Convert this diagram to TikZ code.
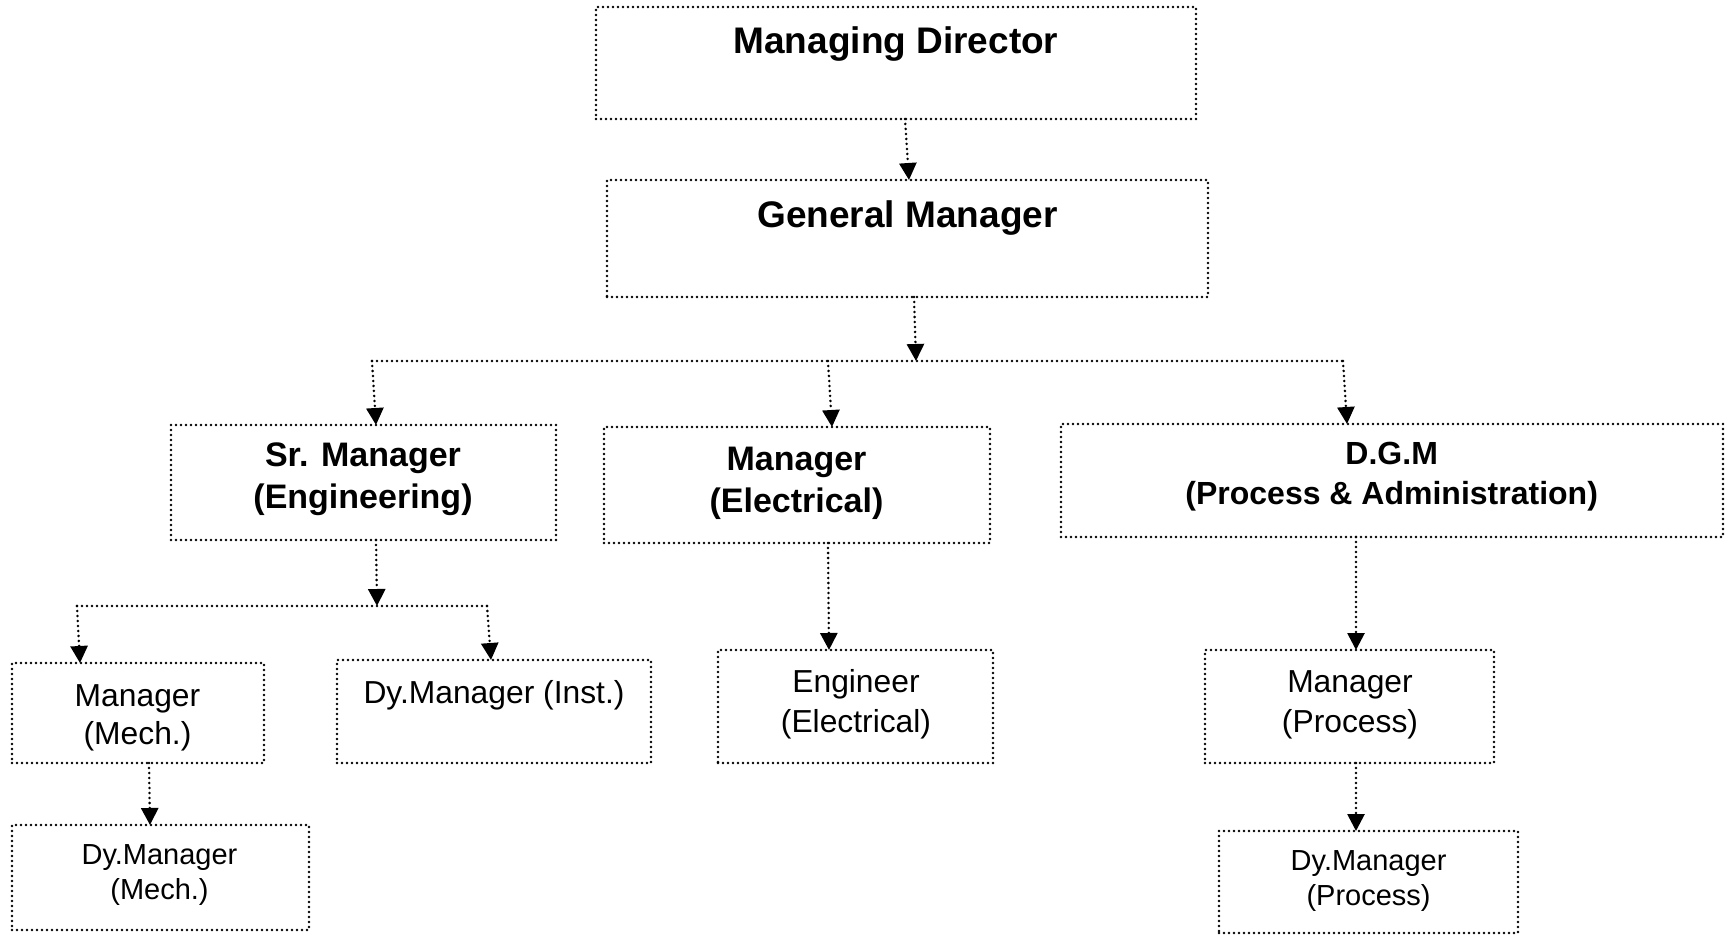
\documentclass[tikz,border=0pt]{standalone}
\usepackage{fontspec}
\setmainfont{Liberation Sans}
\usetikzlibrary{arrows.meta,calc}
\tikzset{
  box/.style={draw, line width=1.4pt, line cap=round, dash pattern=on 0pt off 2.5pt, inner sep=0pt, outer sep=0pt, rectangle},
  conn/.style={line width=1.4pt, line cap=round, dash pattern=on 0pt off 2.5pt},
  arr/.style={conn, -{Triangle[length=8.5pt,width=8.5pt]}},
  bigb/.style={font=\fontsize{18.5}{22}\selectfont\bfseries, align=center, inner sep=0pt},
  midb/.style={font=\fontsize{17}{21}\selectfont\bfseries, align=center, inner sep=0pt},
  dgmb/.style={font=\fontsize{16}{20}\selectfont\bfseries, align=center, inner sep=0pt},
  reg/.style={font=\fontsize{15.9}{20}\selectfont, align=center, inner sep=0pt},
  regs/.style={font=\fontsize{15.9}{19}\selectfont, align=center, inner sep=0pt},
  small/.style={font=\fontsize{14.5}{17.5}\selectfont, align=center, inner sep=0pt},
}
\begin{document}
\begin{tikzpicture}[x=0.5pt,y=-0.5pt]
\useasboundingbox (0,0) rectangle (1725,935);
% boxes
\node[box, minimum width=300pt, minimum height=56pt] (md) at (896,63) {};
\node[bigb] (mdt) at (896,44.5) {Managing Director};
\node[box, minimum width=300.5pt, minimum height=58.5pt] (gm) at (907.5,238.5) {};
\node[bigb] (gmt) at (907.5,218.5) {General Manager};
\node[box, minimum width=192.5pt, minimum height=57.5pt] (sm) at (363.5,482.5) {};
\node[midb] (smt) at (363,479.5) {Sr. Manager\\(Engineering)};
\node[box, minimum width=193pt, minimum height=58pt] (me) at (797,485) {};
\node[midb] (met) at (796.5,483.5) {Manager\\(Electrical)};
\node[box, minimum width=331pt, minimum height=56.5pt] (dgm) at (1392,480.5) {};
\node[dgmb] (dgmt) at (1391.7,476.5) {D.G.M\\(Process \& Administration)};
\node[box, minimum width=126pt, minimum height=50pt] (mm) at (138,713) {};
\node[regs] (mmt) at (137.5,717.5) {Manager\\(Mech.)};
\node[box, minimum width=157pt, minimum height=51.5pt] (di) at (494,711.5) {};
\node[reg] (dit) at (494,695.5) {Dy.Manager (Inst.)};
\node[box, minimum width=148.5pt, minimum height=52.5pt] (dm) at (160.5,877.5) {};
\node[small] (dmt) at (159.5,875.5) {Dy.Manager\\(Mech.)};
\node[box, minimum width=137.5pt, minimum height=56.5pt] (ee) at (855.5,706.5) {};
\node[reg] (eet) at (856,704.5) {Engineer\\(Electrical)};
\node[box, minimum width=144.5pt, minimum height=56.5pt] (mp) at (1349.5,706.5) {};
\node[reg] (mpt) at (1350,704.5) {Manager\\(Process)};
\node[box, minimum width=149.5pt, minimum height=51pt] (dp) at (1368.5,882) {};
\node[small] (dpt) at (1368.6,881.5) {Dy.Manager\\(Process)};
% bus coordinates
\coordinate (b1) at (916,361);
\coordinate (b1l) at (372,361);
\coordinate (b1m) at (828,361);
\coordinate (b1r) at (1343,361);
\coordinate (b2) at (377,606);
\coordinate (b2l) at (77,606);
\coordinate (b2r) at (487,606);
% connectors
\draw[arr] ($(md.south)+(9,0)$) -- ($(gm.north)+(1.5,0)$);
\draw[arr] ($(gm.south)+(6.5,0)$) -- (b1);
\draw[conn] (b1l) -- (b1r);
\draw[arr] (b1l) -- ($(sm.north)+(12.5,0)$);
\draw[arr] (b1m) -- ($(me.north)+(35,0)$);
\draw[arr] (b1r) -- ($(dgm.north)+(-45,0)$);
\draw[arr] ($(sm.south)+(12.5,0)$) -- (b2);
\draw[conn] (b2l) -- (b2r);
\draw[arr] (b2l) -- ($(mm.north)+(-58,0)$);
\draw[arr] (b2r) -- ($(di.north)+(-3,0)$);
\draw[arr] ($(mm.south)+(11,0)$) -- ($(dm.north)+(-10.5,0)$);
\draw[arr] ($(me.south)+(31,0)$) -- ($(ee.north)+(-26.5,0)$);
\draw[arr] ($(dgm.south)+(-36,0)$) -- ($(mp.north)+(6.5,0)$);
\draw[arr] ($(mp.south)+(6.5,0)$) -- ($(dp.north)+(-12.5,0)$);
\end{tikzpicture}
\end{document}
